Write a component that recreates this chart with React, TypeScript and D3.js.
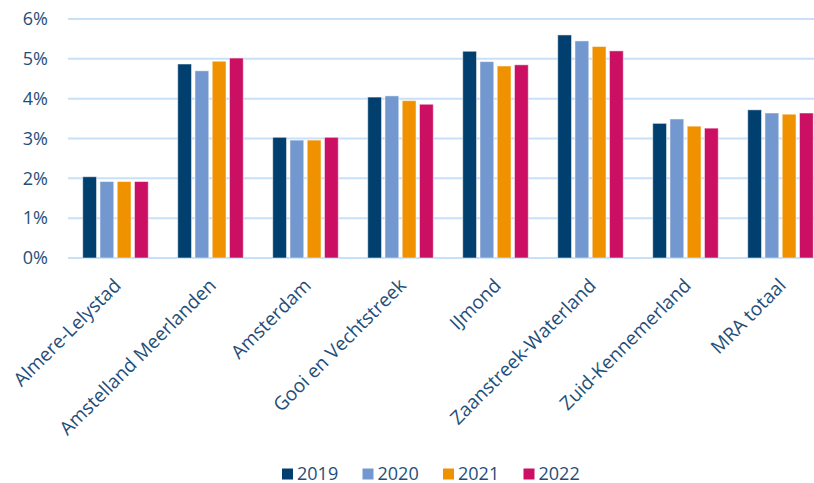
import { useEffect, useMemo, useRef } from "react";
import * as d3 from "d3";

const WIDTH = 814;
const HEIGHT = 483;
const MARGIN = { top: 19, right: -14, bottom: 225, left: 68 };
const TEXT_COLOR = "#1F4E79";
const FONT = "'Open Sans', sans-serif";

const regions = [
  "Almere-Lelystad",
  "Amstelland Meerlanden",
  "Amsterdam",
  "Gooi en Vechtstreek",
  "IJmond",
  "Zaanstreek-Waterland",
  "Zuid-Kennemerland",
  "MRA totaal",
];
const years = ["2019", "2020", "2021", "2022"];
const colors = ["#003F6E", "#7398CF", "#F09100", "#CB1063"];

const values2019 = [2.04, 4.87, 3.03, 4.04, 5.19, 5.6, 3.38, 3.72];
const values2020 = [1.92, 4.7, 2.96, 4.07, 4.93, 5.45, 3.49, 3.64];
const values2021 = [1.92, 4.94, 2.96, 3.95, 4.82, 5.31, 3.31, 3.61];
const values2022 = [1.92, 5.02, 3.03, 3.86, 4.85, 5.2, 3.26, 3.64];
const series = [values2019, values2020, values2021, values2022];

const yTicks = [0, 1, 2, 3, 4, 5, 6];

export default function App() {
  const axesRef = useRef<SVGGElement>(null);
  const boundsWidth = WIDTH - MARGIN.left - MARGIN.right;
  const boundsHeight = HEIGHT - MARGIN.top - MARGIN.bottom;

  const xScale = useMemo(
    () => d3.scaleBand().domain(regions).range([0, boundsWidth]).paddingInner(0.31).paddingOuter(0.155),
    [boundsWidth]
  );
  const innerScale = useMemo(
    () => d3.scaleBand().domain(years).range([0, xScale.bandwidth()]).paddingInner(0.2),
    [xScale]
  );
  const yScale = useMemo(() => d3.scaleLinear().domain([0, 6]).range([boundsHeight, 0]), [boundsHeight]);

  // y axis labels and gridlines via d3
  useEffect(() => {
    const g = d3.select(axesRef.current);
    g.selectAll("*").remove();
    g.selectAll("line.grid")
      .data(yTicks)
      .join("line")
      .attr("class", "grid")
      .attr("x1", 0)
      .attr("x2", boundsWidth)
      .attr("y1", (d) => yScale(d))
      .attr("y2", (d) => yScale(d))
      .attr("stroke", "#C8E1F8")
      .attr("stroke-width", 2);
    g.selectAll("text.ytick")
      .data(yTicks)
      .join("text")
      .attr("class", "ytick")
      .attr("x", -20)
      .attr("y", (d) => yScale(d))
      .attr("dy", "0.35em")
      .attr("text-anchor", "end")
      .attr("fill", TEXT_COLOR)
      .style("font-family", FONT)
      .style("font-size", "18px")
      .text((d) => d + "%");
  }, [yScale, boundsWidth]);

  return (
    <svg width={WIDTH} height={HEIGHT} style={{ position: "absolute", left: 0, top: 0, background: "#fff" }}>
      <g transform={`translate(${MARGIN.left},${MARGIN.top})`}>
        <g ref={axesRef} />
        {regions.map((r, i) => (
          <g key={r} transform={`translate(${xScale(r)},0)`}>
            {series.map((vals, j) => (
              <rect
                key={j}
                x={innerScale(years[j])}
                y={yScale(vals[i])}
                width={innerScale.bandwidth()}
                height={boundsHeight - yScale(vals[i])}
                fill={colors[j]}
                stroke="#ffffff"
                strokeOpacity={0.5}
                strokeWidth={1}
              />
            ))}
          </g>
        ))}
        {regions.map((r) => {
          const cx = (xScale(r) ?? 0) + xScale.bandwidth() / 2 + 2;
          return (
            <text
              key={r}
              transform={`translate(${cx},${boundsHeight + 24}) rotate(-45)`}
              textAnchor="end"
              dy="0.35em"
              fill={TEXT_COLOR}
              style={{ fontFamily: FONT, fontSize: 19 }}
            >
              {r}
            </text>
          );
        })}
      </g>
      <g transform="translate(282,474)">
        {years.map((y, j) => (
          <g key={y} transform={`translate(${j * 80.5},0)`}>
            <rect x={0} y={-5.5} width={11} height={11} fill={colors[j]} />
            <text x={15} dy="0.35em" fill={TEXT_COLOR} style={{ fontFamily: FONT, fontSize: 18 }}>
              {y}
            </text>
          </g>
        ))}
      </g>
    </svg>
  );
}
